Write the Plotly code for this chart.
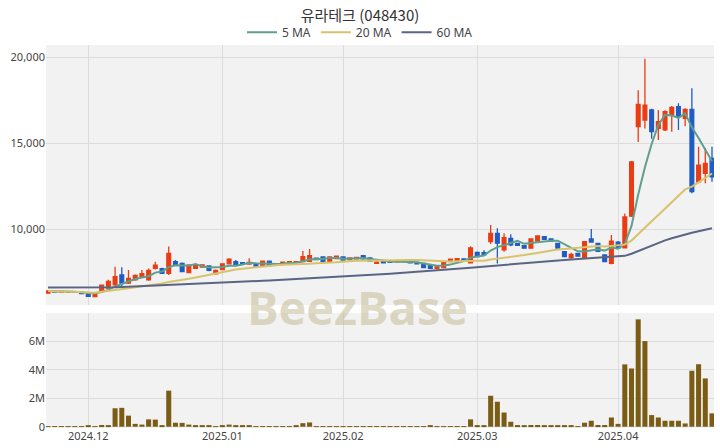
import pandas as pd
import plotly.graph_objects as go

# ---- data ----
holidays = ["2024-12-25", "2024-12-31", "2025-01-01", "2025-01-27",
            "2025-01-28", "2025-01-29", "2025-01-30"]
dates = [d.strftime("%Y-%m-%d") for d in pd.bdate_range("2024-11-22", "2025-04-21")
         if d.strftime("%Y-%m-%d") not in holidays]

opens = [6270, 6380, 6330, 6340, 6360, 6350, 6250, 6070, 6370, 6560,
         6760, 7330, 6850, 7040, 7230, 7050, 7720, 7700, 7430, 8100,
         8000, 7470, 7720, 7780, 7850, 7400, 7640, 7980, 8100, 8050,
         7960, 7980, 7870, 8130, 7900, 7980, 8050, 8060, 8100, 8120,
         8300, 8380, 8120, 8280, 8380, 8230, 8260, 8450, 8320, 8000,
         8160, 8140, 8090, 8100, 8100, 8060, 8000, 7900, 7720, 7760,
         8100, 8150, 8260, 8030, 8640, 8620, 9270, 9750, 8790, 9460,
         9170, 9030, 8890, 9300, 9550, 9420, 9170, 8680, 8340, 8590,
         8300, 9420, 9170, 8490, 8010, 9240, 8900, 10750, 15950, 16340,
         16920, 15850, 15760, 16630, 17110, 16440, 16960, 12750, 13240, 14110]
highs = [6420, 6400, 6390, 6380, 6380, 6380, 6270, 6320, 6780, 7050,
         7810, 7780, 7620, 7350, 7620, 7700, 8100, 7750, 8980, 8200,
         8050, 7950, 7920, 7950, 7880, 7650, 8000, 8300, 8200, 8080,
         8300, 8000, 8150, 8160, 7980, 8100, 8120, 8130, 8720, 8840,
         8330, 8400, 8400, 8450, 8400, 8340, 8370, 8470, 8340, 8120,
         8180, 8160, 8160, 8170, 8120, 8080, 8020, 7920, 7890, 8080,
         8270, 8300, 8280, 9000, 8700, 8760, 10230, 10040, 9750, 9690,
         9200, 9060, 9440, 9630, 9580, 9440, 9190, 8700, 8620, 8610,
         9300, 10000, 9200, 8510, 9650, 9300, 10900, 13950, 18070, 19900,
         17000, 16920, 16900, 17150, 17310, 17020, 18180, 14790, 14690, 14790]
lows = [6250, 6320, 6310, 6320, 6300, 6230, 6050, 6050, 6350, 6550,
        6700, 6650, 6800, 7000, 7200, 7000, 7650, 7400, 7330, 7880,
        7500, 7450, 7700, 7760, 7550, 7380, 7600, 7950, 7880, 7940,
        7940, 7830, 7860, 7850, 7880, 7960, 8030, 8040, 8080, 8100,
        8200, 8100, 8100, 8260, 8180, 8210, 8240, 8240, 8120, 7980,
        8020, 8040, 8070, 8080, 8010, 7960, 7740, 7680, 7700, 7740,
        8080, 8130, 8180, 8000, 8380, 8480, 9130, 8000, 8680, 9000,
        9020, 8870, 8870, 9280, 9380, 9280, 8870, 8380, 8200, 8400,
        8270, 9200, 8680, 8090, 7950, 8870, 8880, 10700, 15060, 15850,
        15250, 15170, 15700, 15660, 15760, 15980, 12080, 12660, 12660, 12750]
closes = [6400, 6340, 6370, 6360, 6320, 6250, 6080, 6300, 6740, 6950,
          7230, 6850, 7130, 7300, 7400, 7600, 7900, 7430, 8590, 7920,
          7530, 7900, 7880, 7920, 7600, 7600, 7980, 8250, 7920, 7960,
          8060, 7850, 8130, 7870, 7960, 8080, 8100, 8110, 8390, 8450,
          8220, 8120, 8380, 8430, 8200, 8320, 8350, 8260, 8140, 8080,
          8040, 8060, 8140, 8150, 8030, 7980, 7760, 7720, 7870, 8060,
          8250, 8280, 8200, 8900, 8400, 8500, 9750, 9180, 9500, 9080,
          9050, 8890, 9420, 9600, 9400, 9300, 8890, 8400, 8520, 8420,
          9260, 9240, 8700, 8110, 9300, 8900, 10700, 13900, 17250, 17210,
          15660, 16240, 16820, 17070, 16530, 16960, 12170, 13720, 13820, 13040]
volumes_m = [0.03, 0.02, 0.02, 0.03, 0.02, 0.04, 0.05, 0.04, 0.12, 0.08,
             1.30, 1.33, 0.78, 0.20, 0.15, 0.52, 0.50, 0.08, 2.54, 0.28,
             0.27, 0.15, 0.07, 0.10, 0.05, 0.03, 0.06, 0.15, 0.07, 0.05,
             0.10, 0.03, 0.04, 0.02, 0.02, 0.03, 0.02, 0.05, 0.25, 0.30,
             0.04, 0.03, 0.03, 0.04, 0.03, 0.02, 0.03, 0.04, 0.02, 0.03,
             0.02, 0.02, 0.02, 0.02, 0.02, 0.03, 0.03, 0.08, 0.03, 0.03,
             0.02, 0.03, 0.03, 0.52, 0.08, 0.06, 2.18, 1.76, 1.00, 0.35,
             0.05, 0.05, 0.12, 0.12, 0.08, 0.08, 0.10, 0.08, 0.07, 0.03,
             0.28, 0.42, 0.12, 0.12, 0.65, 0.20, 4.39, 4.10, 7.56, 6.03,
             0.82, 0.65, 0.42, 0.42, 0.42, 0.23, 3.94, 4.40, 3.40, 0.94]
ma60 = [6600, 6600, 6598, 6596, 6594, 6592, 6590, 6590, 6592, 6605,
        6620, 6635, 6650, 6665, 6680, 6695, 6710, 6725, 6740, 6755,
        6770, 6785, 6800, 6815, 6830, 6850, 6870, 6890, 6910, 6930,
        6950, 6970, 6990, 7010, 7030, 7050, 7070, 7090, 7110, 7130,
        7150, 7170, 7190, 7210, 7230, 7255, 7280, 7305, 7330, 7355,
        7380, 7405, 7430, 7455, 7480, 7505, 7530, 7555, 7580, 7615,
        7650, 7685, 7720, 7755, 7790, 7825, 7860, 7895, 7930, 7960,
        7990, 8020, 8050, 8080, 8110, 8140, 8170, 8200, 8230, 8260,
        8290, 8310, 8330, 8350, 8370, 8400, 8440, 8560, 8720, 8890,
        9050, 9200, 9340, 9460, 9580, 9680, 9780, 9870, 9960, 10040]

tick_dates = ["2024-12-02", "2025-01-02", "2025-02-03", "2025-03-03", "2025-04-01"]
tick_labels = ["2024.12", "2025.01", "2025.02", "2025.03", "2025.04"]

title_text = "유라테크 (048430)"

close_s = pd.Series(closes, dtype=float)
ma5 = close_s.rolling(5, min_periods=1).mean().tolist()
ma20 = close_s.rolling(20, min_periods=1).mean().tolist()
volumes = [v * 1e6 for v in volumes_m]

UP = "#ea3c13"
DOWN = "#1f5cc4"

fig = go.Figure()
fig.add_trace(go.Candlestick(
    x=dates, open=opens, high=highs, low=lows, close=closes,
    increasing=dict(line=dict(color=UP, width=1.3), fillcolor=UP),
    decreasing=dict(line=dict(color=DOWN, width=1.3), fillcolor=DOWN),
    whiskerwidth=0, showlegend=False, xaxis="x", yaxis="y"))
fig.add_trace(go.Scatter(x=dates, y=ma5, mode="lines", name="5 MA",
                         line=dict(color="#5f9f8c", width=2), xaxis="x", yaxis="y"))
fig.add_trace(go.Scatter(x=dates, y=ma20, mode="lines", name="20 MA",
                         line=dict(color="#d8c36c", width=2), xaxis="x", yaxis="y"))
fig.add_trace(go.Scatter(x=dates, y=ma60, mode="lines", name="60 MA",
                         line=dict(color="#5a6584", width=2), xaxis="x", yaxis="y"))
fig.add_trace(go.Bar(x=dates, y=volumes, marker=dict(color="#7a5c14", line=dict(width=0)),
                     showlegend=False, xaxis="x", yaxis="y2"))

grid = "#dcdcdc"
tickfont = dict(family="Noto Sans, sans-serif", size=11, color="#444")
fig.update_layout(
    width=720, height=448,
    margin=dict(l=46, r=6, t=45, b=20, autoexpand=False),
    paper_bgcolor="white", plot_bgcolor="#f2f2f2",
    title=dict(text=title_text, x=0.5, xanchor="center", yref="container", y=0.965,
               yanchor="middle",
               font=dict(family="Noto Sans CJK KR, sans-serif", size=15, color="#333")),
    legend=dict(orientation="h", x=0.5, xanchor="center", xref="container",
                yref="container", y=0.928,
                yanchor="middle", font=dict(family="Noto Sans, sans-serif", size=12, color="#444"),
                bgcolor="rgba(0,0,0,0)", itemwidth=30),
    bargap=0.25,
    boxgap=0.2,
    showlegend=True,
    xaxis=dict(type="category", range=[-0.3, 99.3], anchor="y2",
               tickmode="array", tickvals=tick_dates, ticktext=tick_labels,
               showgrid=True, gridcolor=grid, tickfont=tickfont, ticks="",
               rangeslider=dict(visible=False), zeroline=False, showline=False,
               automargin=False),
    yaxis=dict(domain=[0.321, 1], range=[5580, 20700], tickformat=",",
               tickvals=[10000, 15000, 20000], automargin=False,
               showgrid=True, gridcolor=grid, tickfont=tickfont, zeroline=False),
    yaxis2=dict(domain=[0, 0.300], range=[-0.09e6, 8.0e6], automargin=False,
                tickvals=[0, 2e6, 4e6, 6e6], ticktext=["0", "2M", "4M", "6M"],
                showgrid=True, gridcolor=grid, tickfont=tickfont, zeroline=False),
    annotations=[dict(text="<b>BeezBase</b>", xref="paper", yref="paper",
                      x=0.467, y=0.315, xanchor="center", yanchor="middle",
                      showarrow=False,
                      font=dict(family="Open Sans, sans-serif", size=47,
                                color="rgba(196,186,146,0.55)"))],
)

fig.write_html("out.html", config={"displayModeBar": False},
               post_script="document.body.style.margin='0px';document.body.style.overflow='hidden';")
